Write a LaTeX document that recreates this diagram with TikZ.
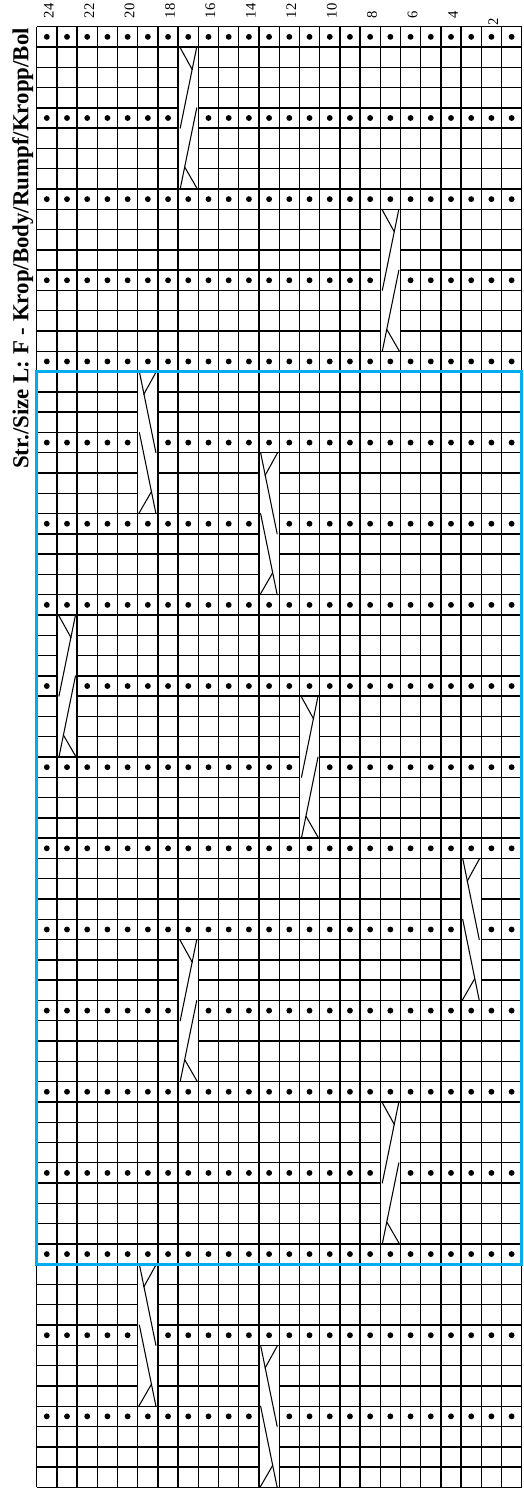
\documentclass[tikz,border=0pt]{standalone}
\usepackage{fontspec}
\setmainfont{Liberation Serif}

\definecolor{repeatblue}{RGB}{0,174,239}

\begin{document}
\begin{tikzpicture}[x=0.03cm, y=-0.03cm]

  % Styles
  \tikzset{
    gridline/.style={line width=1.2pt, black},
    strand/.style={line width=0.9pt, black, line cap=round},
    purl/.style={fill=black},
    numlabel/.style={rotate=90, anchor=west, inner sep=0pt, font=\fontsize{12.5}{12.5}\selectfont},
    title/.style={rotate=90, anchor=base east, inner sep=0pt, font=\fontsize{19.5}{20}\selectfont\bfseries},
    repeatbox/.style={draw=repeatblue, line width=2.6pt},
    cable/.pic={
      \fill[white] (-0.5,0) rectangle (0.5,7);
      \draw[gridline] (-0.5,0) rectangle (0.5,7);
      \draw[strand] (0.42,0) -- (-0.4,4);
      \draw[strand] (0.42,3) -- (-0.4,7);
      \draw[strand] (-0.42,0) -- (0.2,1.12);
      \draw[strand] (-0.17,5.93) -- (0.45,7);
    }
  }

  \useasboundingbox (0,0) rectangle (523,1489);

  % Title and stitch numbers
  \node[title] (title) at (28.5,28) {Str./Size L: F - Krop/Body/Rumpf/Kropp/Bol};
  \foreach \n in {24,22,...,4}
    \node[numlabel] (num\n) at ({36.7+(24.5-\n)*20.208+2},18.5) {\n};
  \node[numlabel] (num2) at ({36.7+22.5*20.208+2},26) {2};

  % Chart, one unit per stitch and row
  \begin{scope}[shift={(36.7,26.7)}, x=0.60625cm, y=-0.60858cm]
    \foreach \c in {0,...,24}
      \draw[gridline] (\c,0) -- (\c,72);
    \foreach \r in {0,...,72}
      \draw[gridline] (0,\r) -- (24,\r);

    % purl rows
    \foreach \r in {1,5,...,69}
      \foreach \c in {1,...,24}
        \fill[purl] (\c-0.5,\r-0.5) circle (2.5pt);

    % cables leaning right, then leaning left
    \foreach \c/\r in {8/2,18/10,2/30,14/34,8/46,18/54}
      \pic at (\c-0.5,\r-1) {cable};
    \foreach \c/\r in {6/18,12/22,22/42,6/62,12/66}
      \pic[xscale=-1] at (\c-0.5,\r-1) {cable};

    % pattern repeat
    \draw[repeatbox] (0,17) rectangle (24,61);
  \end{scope}

\end{tikzpicture}
\end{document}
